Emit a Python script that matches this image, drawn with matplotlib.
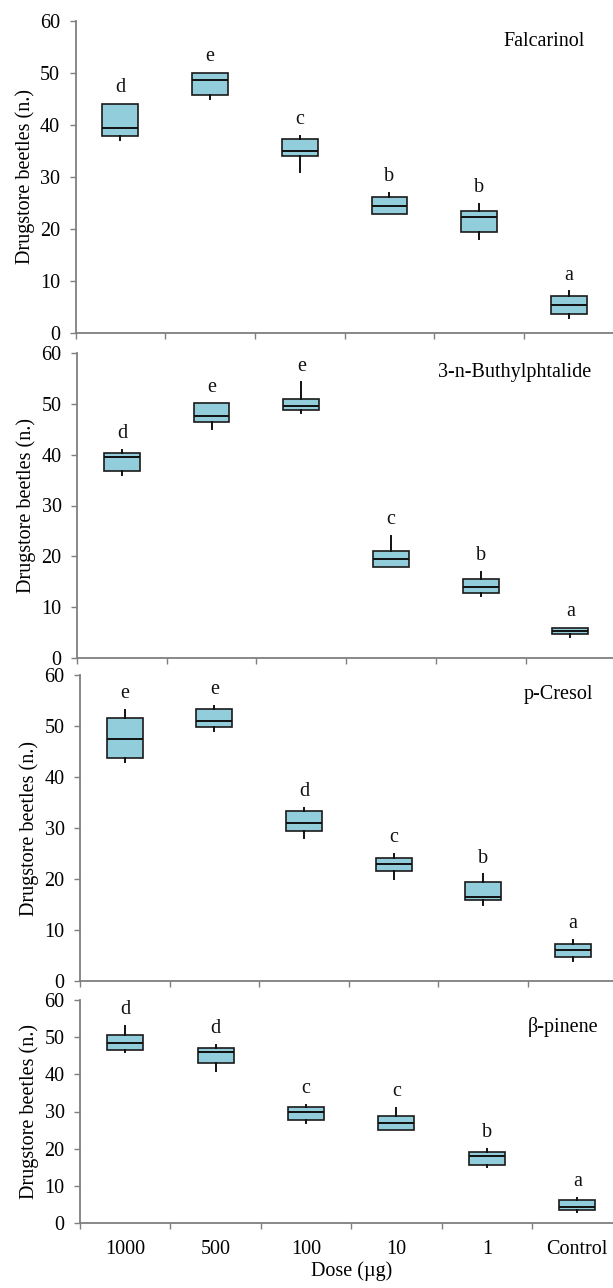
import matplotlib.pyplot as plt

plt.rcParams['font.family'] = ['Liberation Serif', 'DejaVu Serif']

doses = ['1000', '500', '100', '10', '1', 'Control']
compounds = ['Falcarinol', '3-n-Buthylphtalide', 'p-Cresol', 'β-pinene']

# per compound: lower whisker, Q1, median, Q3, upper whisker (one entry per dose)
falc_lo = [37.2, 45.0, 30.9, 22.9, 18.1, 2.9]
falc_q1 = [37.8, 45.8, 34.0, 22.9, 19.5, 3.7]
falc_med = [39.5, 48.6, 35.0, 24.5, 22.4, 5.4]
falc_q3 = [44.0, 50.0, 37.3, 26.2, 23.5, 7.2]
falc_hi = [44.0, 50.0, 37.9, 27.0, 24.9, 8.0]
falc_let = ['d', 'e', 'c', 'b', 'b', 'a']

buth_lo = [36.0, 45.0, 48.1, 18.0, 12.1, 4.1]
buth_q1 = [36.8, 46.5, 48.8, 18.0, 12.7, 4.7]
buth_med = [39.5, 47.6, 49.6, 19.5, 14.0, 5.4]
buth_q3 = [40.3, 50.1, 51.0, 21.0, 15.5, 6.0]
buth_hi = [40.9, 50.1, 54.2, 24.0, 16.9, 6.0]
buth_let = ['d', 'e', 'e', 'c', 'b', 'a']

cres_lo = [43.0, 49.1, 28.1, 20.0, 14.9, 3.9]
cres_q1 = [43.8, 49.8, 29.5, 21.5, 15.8, 4.7]
cres_med = [47.5, 51.0, 31.0, 23.0, 16.5, 6.0]
cres_q3 = [51.5, 53.3, 33.3, 24.2, 19.5, 7.2]
cres_hi = [53.1, 54.0, 34.0, 25.0, 20.9, 8.0]
cres_let = ['e', 'e', 'd', 'c', 'b', 'a']

pin_lo = [45.9, 40.8, 27.0, 24.9, 15.0, 3.0]
pin_q1 = [46.6, 43.1, 27.7, 24.9, 15.6, 3.6]
pin_med = [48.5, 45.9, 30.0, 27.0, 17.9, 4.4]
pin_q3 = [50.7, 47.2, 31.2, 28.8, 19.1, 6.2]
pin_hi = [53.0, 47.9, 31.7, 31.0, 19.9, 6.7]
pin_let = ['d', 'd', 'c', 'c', 'b', 'a']

panels = [
    (falc_lo, falc_q1, falc_med, falc_q3, falc_hi, falc_let),
    (buth_lo, buth_q1, buth_med, buth_q3, buth_hi, buth_let),
    (cres_lo, cres_q1, cres_med, cres_q3, cres_hi, cres_let),
    (pin_lo, pin_q1, pin_med, pin_q3, pin_hi, pin_let),
]

W, H = 613, 1288
fig = plt.figure(figsize=(W / 100, H / 100), dpi=100)

# axes boxes in pixels: left, top, bottom, category spacing
boxes_px = [(75.5, 21, 333, 89.7), (77, 353, 658, 89.7),
            (80, 675, 981, 89.6), (80, 1000, 1223, 90.4)]

fill = '#92cddc'
grey = '#7f7f7f'

for i, (lo, q1, med, q3, hi, lets) in enumerate(panels):
    left, top, bot, sp = boxes_px[i]
    ax = fig.add_axes([left / W, (H - bot) / H, 6 * sp / W, (bot - top) / H])
    stats = []
    for j in range(len(doses)):
        stats.append({'whislo': lo[j], 'q1': q1[j], 'med': med[j],
                      'q3': q3[j], 'whishi': hi[j], 'fliers': []})
    pos = list(range(1, len(doses) + 1))
    ax.bxp(stats, positions=pos, widths=0.4, patch_artist=True,
           showcaps=False, showfliers=False,
           boxprops=dict(facecolor=fill, edgecolor='#1a1a1a', linewidth=1.2),
           medianprops=dict(color='#111111', linewidth=1.4),
           whiskerprops=dict(color='#111111', linewidth=1.4))
    for j in range(len(doses)):
        ax.annotate(lets[j], (pos[j], hi[j]), xytext=(0, 8.5),
                    textcoords='offset points', ha='center', va='baseline',
                    fontsize=14.5, color='#111111')
    ax.set_xlim(0.5, 6.5)
    ax.set_ylim(0, 60)
    ax.set_yticks(range(0, 61, 10))
    ax.set_xticks([k + 0.5 for k in range(6)], minor=True)
    ax.set_xticks(pos)
    ax.tick_params(axis='x', which='major', length=0, pad=12, labelsize=14.5)
    ax.tick_params(axis='x', which='minor', length=4, width=1, color=grey)
    ax.tick_params(axis='y', length=4, width=1, color=grey, pad=7, labelsize=14.5)
    for s in ['top', 'right']:
        ax.spines[s].set_visible(False)
    for s in ['left', 'bottom']:
        ax.spines[s].set_color(grey)
        ax.spines[s].set_linewidth(1.3)
    ax.set_ylabel('Drugstore beetles (n.)', fontsize=14.5, labelpad=4)
    ax.text(0.955 if i else 0.947, 0.935 if i < 3 else 0.88, compounds[i],
            transform=ax.transAxes, ha='right', va='center', fontsize=14.5)
    if i < 3:
        ax.set_xticklabels([])
    else:
        ax.set_xticklabels(doses)
        ax.set_xlabel('Dose (µg)', fontsize=14.5, labelpad=2)

fig.savefig('out.png', dpi=100)
